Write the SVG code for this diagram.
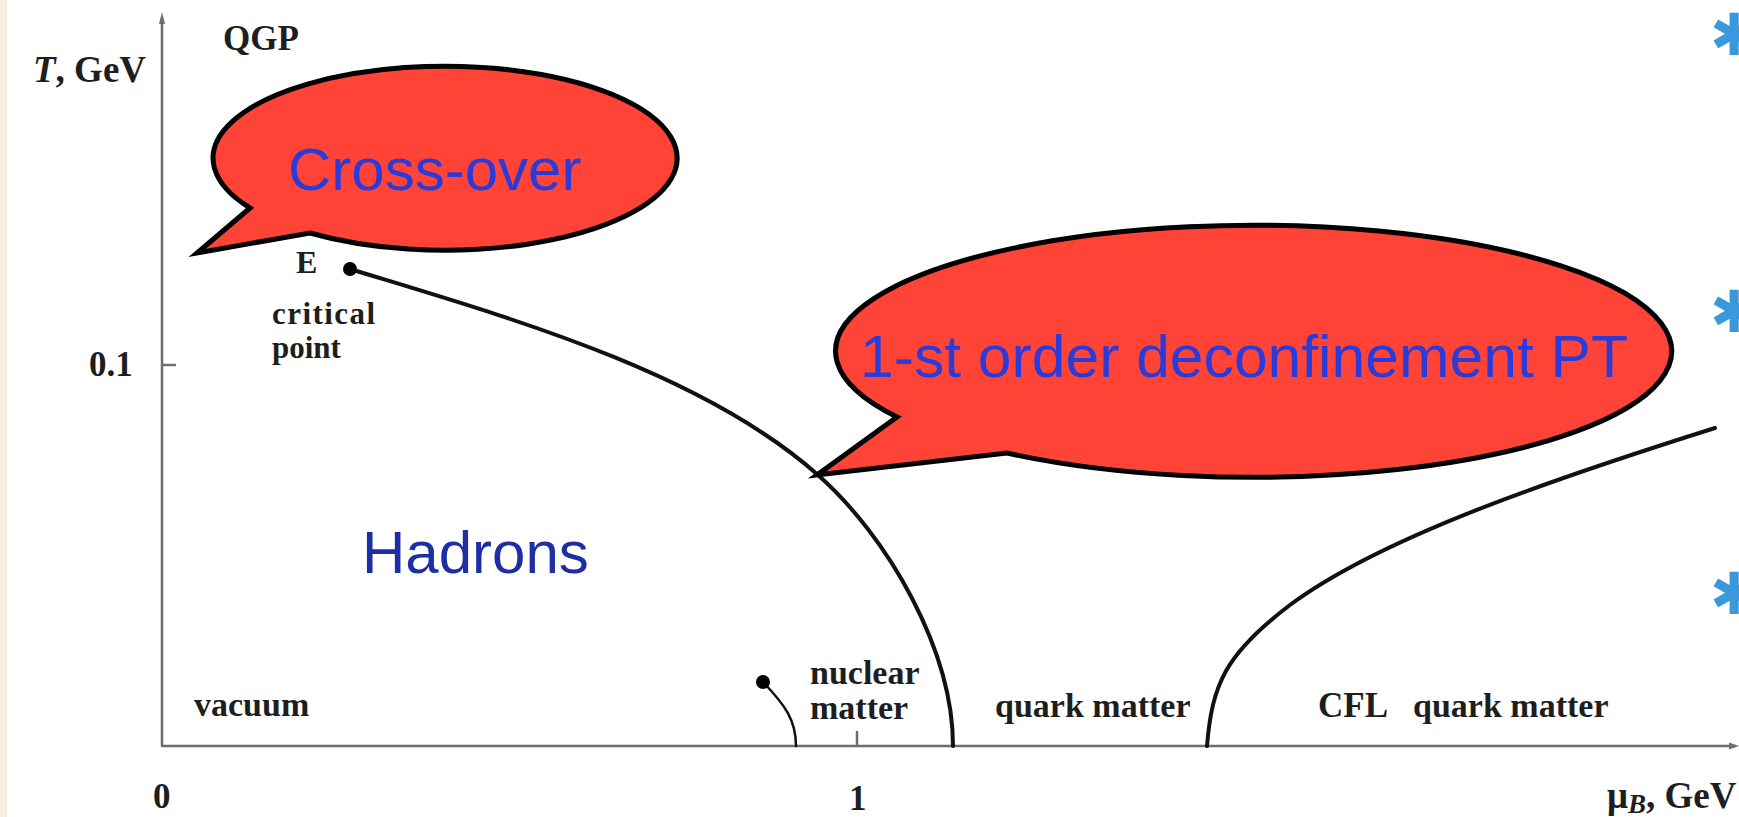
<svg xmlns="http://www.w3.org/2000/svg" width="1739" height="817" viewBox="0 0 1739 817">
<style>
.lbl{font-family:"Liberation Serif",serif;font-weight:bold;fill:#1e1e1e}
.big{font-family:"Liberation Sans",Arial,sans-serif;font-size:60px}
.bubble{fill:#ff4336;stroke:#000;stroke-width:5;stroke-linejoin:miter}
.axis{stroke:#6e6e6e;stroke-width:2.5;fill:none}
.phase{stroke:#111;fill:none;stroke-linecap:round}
.star{font-family:"DejaVu Sans",sans-serif;font-size:58px;fill:#3a98dc;font-weight:bold}
</style>
<rect x="0" y="0" width="1739" height="817" fill="#ffffff"/>
<rect x="0" y="0" width="7" height="817" fill="#f8efe2"/>

<g id="axes">
  <line class="axis" x1="162" y1="18" x2="162" y2="746"/>
  <polygon points="162,12 159,24 165,24" fill="#6e6e6e"/>
  <line class="axis" x1="161" y1="746" x2="1735" y2="746"/>
  <polygon points="1739,746 1729,742.5 1729,749.5" fill="#6e6e6e"/>
  <line class="axis" x1="162" y1="365" x2="176" y2="365"/>
  <line class="axis" x1="857" y1="731" x2="857" y2="746"/>
  <text class="lbl" x="33" y="82" font-size="37"><tspan font-style="italic">T</tspan>, GeV</text>
  <text class="lbl" x="89" y="376" font-size="35">0.1</text>
  <text class="lbl" x="153" y="808" font-size="35">0</text>
  <text class="lbl" x="849" y="810" font-size="35">1</text>
  <text class="lbl" x="1607" y="808" font-size="37">μ<tspan font-style="italic" font-size="27" dy="5">B</tspan><tspan dy="-5">, GeV</tspan></text>
</g>

<g id="curves">
  <path class="phase" stroke-width="4" d="M350,269 C500,315 700,370 818,475 C888,537 953,650 953,746"/>
  <path class="phase" stroke-width="2.5" d="M763,682 C785,705 796,720 796,746"/>
  <path class="phase" stroke-width="4" d="M1207,746 C1212,685 1225,654 1290,605 C1380,538 1550,480 1715,428"/>
  <circle cx="350" cy="269" r="7" fill="#000"/>
  <circle cx="763" cy="682" r="7" fill="#000"/>
</g>

<g id="region-labels">
  <text class="lbl" x="223" y="50" font-size="35">QGP</text>
  <text class="lbl" x="296" y="273" font-size="32">E</text>
  <text class="lbl" x="272" y="324" font-size="31" textLength="103">critical</text>
  <text class="lbl" x="272" y="358" font-size="31">point</text>
  <text class="lbl" x="194" y="716" font-size="34">vacuum</text>
  <text class="lbl" x="810" y="684" font-size="34">nuclear</text>
  <text class="lbl" x="810" y="719" font-size="34">matter</text>
  <text class="lbl" x="995" y="717" font-size="34">quark matter</text>
  <text class="lbl" x="1318" y="717" font-size="35">CFL</text>
  <text class="lbl" x="1413" y="717" font-size="34">quark matter</text>
  <text class="big" x="362" y="573" fill="#1e2fa5">Hadrons</text>
</g>

<g id="bubble-crossover">
  <path class="bubble" d="M250,208 L197,253 L310,233 A232,92 0 1 0 250,208 Z"/>
  <text class="big" x="288" y="190" fill="#2a3bdc">Cross-over</text>
</g>

<g id="bubble-first-order">
  <path class="bubble" d="M897,417 L817,475 L1007,453 A418,126 0 1 0 897,417 Z"/>
  <text class="big" x="860" y="377" fill="#2a3bdc" font-size="61" textLength="768" lengthAdjust="spacingAndGlyphs">1-st order deconfinement PT</text>
</g>

<g id="bullets">
  <text class="star" x="1734" y="55" text-anchor="middle">✱</text>
  <text class="star" x="1734" y="332" text-anchor="middle">✱</text>
  <text class="star" x="1734" y="614" text-anchor="middle">✱</text>
</g>
</svg>
